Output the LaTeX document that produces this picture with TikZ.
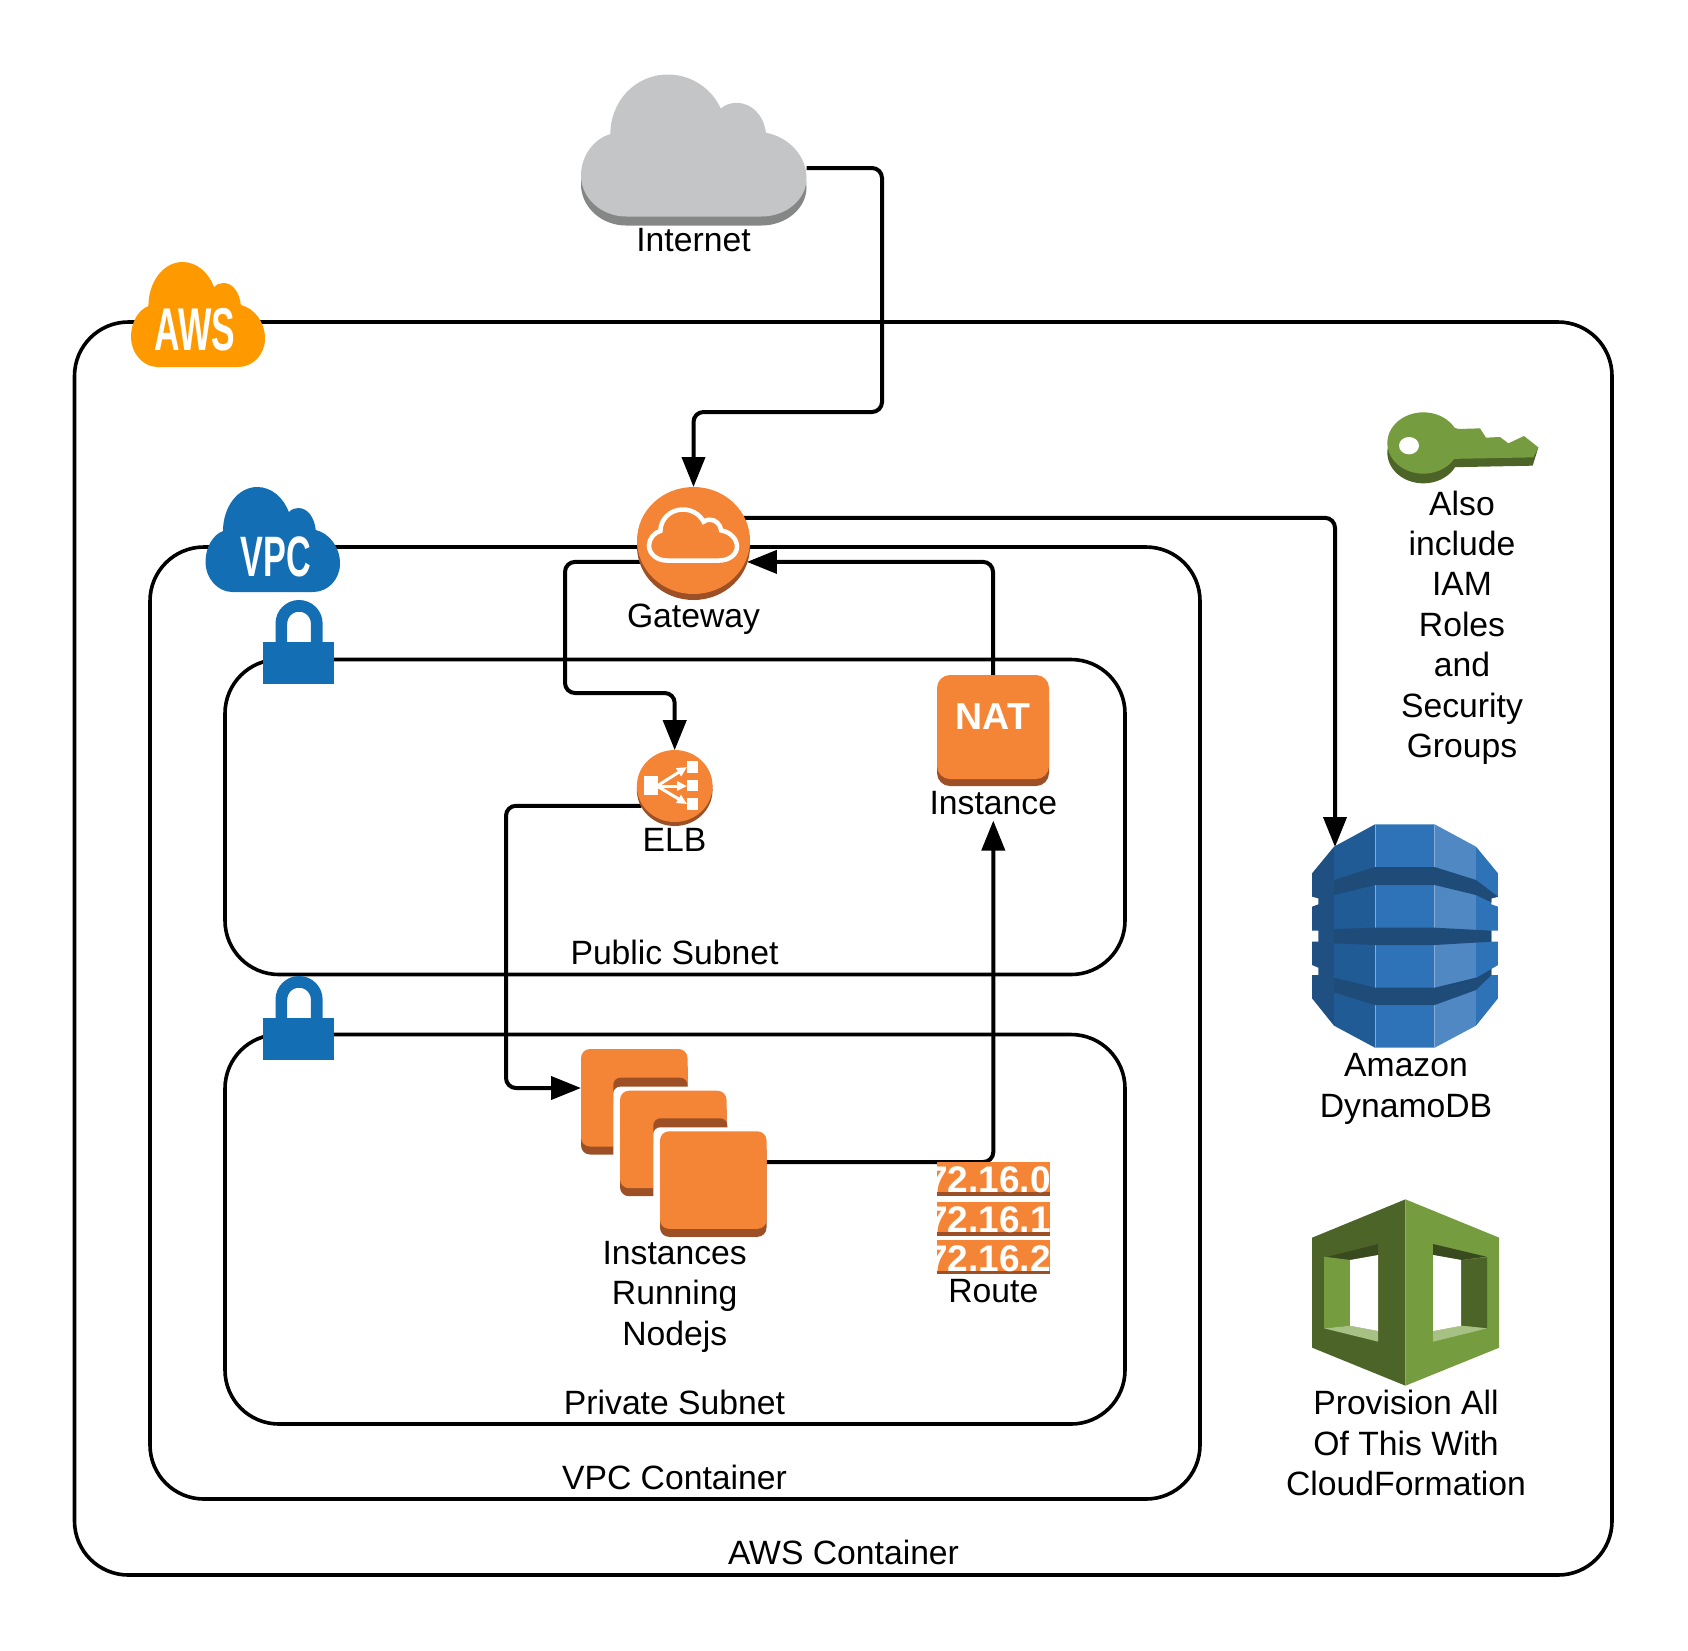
\documentclass[tikz,border=0pt]{standalone}
\usepackage{fontspec}
\setmainfont{Liberation Sans}
\usetikzlibrary{arrows.meta}

\definecolor{awsorange}{HTML}{F58536}
\definecolor{awsbrown}{HTML}{9D5025}
\definecolor{awsyellow}{HTML}{FF9900}
\definecolor{vpcblue}{HTML}{146EB4}
\definecolor{cloudgrey}{HTML}{C4C5C6}
\definecolor{cloudshade}{HTML}{858787}
\definecolor{keygreen}{HTML}{759C3E}
\definecolor{keyshade}{HTML}{4D6429}
\definecolor{cubedark}{HTML}{3A4A1F}
\definecolor{cubelight}{HTML}{A7C084}
\definecolor{dynoA}{HTML}{205081}
\definecolor{dynoB}{HTML}{205B96}
\definecolor{dynoC}{HTML}{2E73B8}
\definecolor{dynoD}{HTML}{5088C4}
\definecolor{dynoband}{HTML}{1F4B78}

\def\cloudpath{(0.2,1) .. controls (0.09,1) and (0,0.87) .. (0,0.71) .. controls (0,0.57) and (0.06,0.45) .. (0.13,0.42) .. controls (0.13,0.19) and (0.24,0) .. (0.385,0) .. controls (0.49,0) and (0.58,0.1) .. (0.62,0.24) .. controls (0.64,0.21) and (0.665,0.2) .. (0.69,0.2) .. controls (0.76,0.2) and (0.81,0.29) .. (0.82,0.41) .. controls (0.92,0.44) and (1,0.57) .. (1,0.73) .. controls (1,0.88) and (0.91,1) .. (0.8,1) -- cycle}
\def\dynamoshape{(36,175) -- (102,95) -- (225,28) -- (404,28) -- (528,95) -- (594,175) -- (594,245) -- (574,250) -- (574,268) -- (594,275) -- (594,347) -- (574,347) -- (574,380) -- (594,380) -- (594,450) -- (574,462) -- (574,480) -- (594,480) -- (594,550) -- (528,632) -- (404,698) -- (225,698) -- (102,632) -- (36,550) -- (36,480) -- (55,480) -- (55,458) -- (36,450) -- (36,380) -- (55,380) -- (55,347) -- (36,347) -- (36,275) -- (55,268) -- (55,250) -- (36,245) -- cycle}

\tikzset{
  container/.style={draw, line width=3.6pt, rounded corners=54pt, inner sep=0pt, outer sep=0pt},
  conn/.style={draw, line width=4pt, rounded corners=10pt, -{Triangle[length=30pt,width=23pt]}},
  iconbox/.style={inner sep=0pt, outer sep=0pt},
  instbox/.style={iconbox, fill=awsorange, rounded corners=9pt, minimum width=106.5pt, minimum height=97.5pt},
  lbl/.style={font=\fontsize{33.7}{40.4}\selectfont, align=center, inner sep=0pt},
  logotext/.style={font=\fontsize{57}{57}\selectfont\bfseries, text=white, inner sep=0pt, anchor=base},
  routetext/.style={font=\fontsize{37}{37}\selectfont\bfseries, text=white, inner sep=0pt, anchor=base east},
  elbarrow/.style={white, line width=3pt, -{Triangle[length=10pt,width=9pt]}},
}

\newcommand{\lockicon}[1]{
  \begin{scope}[shift={#1}]
    \draw[vpcblue, line width=11.7pt] (18.35,10) -- (18.35,-18.45) arc [start angle=180, end angle=360, radius=17.7] -- (53.75,10);
    \fill[vpcblue] (0,0) rectangle (70.5,42);
  \end{scope}
}
\newcommand{\instback}[1]{
  \begin{scope}[shift={#1}]
    \fill[awsbrown, rounded corners=7pt] (-6.7,12) |- (67.3,-13) [sharp corners] -- (67.3,12) -- cycle;
    \fill[white, rounded corners=7pt] (-6.7,-4) rectangle (106.5,105.5);
  \end{scope}
}
\newcommand{\instfront}[2]{
  \begin{scope}[shift={#1}]
    \fill[awsbrown, rounded corners=9pt] (0,10) rectangle (106.5,105.5);
    \node[instbox] (#2) at (53.25,48.75) {};
  \end{scope}
}
\newcommand{\routerow}[5]{
  \fill[awsorange] (937,#1) rectangle (1050,#2);
  \fill[awsbrown] (937,#3) rectangle (1050,#2);
  \begin{scope}
    \clip (937,#1) rectangle (1050,#2);
    \node[routetext] (#4) at (1051,#3) {#5};
  \end{scope}
}

\begin{document}
\begin{tikzpicture}[x=1pt, y=-1pt]
    \useasboundingbox (0,0) rectangle (1688,1650);

    % containers
    \node[container, minimum width=1537.5pt, minimum height=1253pt] (awsbox) at (843.25,948.5) {};
    \node[container, minimum width=1050pt, minimum height=952pt] (vpcbox) at (675,1023) {};
    \node[container, minimum width=900pt, minimum height=315pt] (publicbox) at (675,817) {};
    \node[container, minimum width=900pt, minimum height=389.5pt] (privatebox) at (675,1229.25) {};

    % nodes that the connectors need
    \node[iconbox, minimum width=225.5pt, minimum height=151pt] (internet) at (693.75,150) {};
    \node[iconbox, circle, minimum size=113pt] (gateway) at (693.5,543.5) {};
    \node[iconbox, circle, minimum size=75.7pt] (elb) at (674.7,788) {};
    \node[iconbox, minimum width=112pt, minimum height=104pt] (nat) at (993,727) {};
    \node[lbl, anchor=base, inner sep=5.5pt] (natlabel) at (993.3,814.5) {Instance};
    \coordinate (bendgate) at (882,412);
    \coordinate (bendelb) at (565,693);
    \coordinate (bendinst) at (506,1088);
    \coordinate (dynamotip) at (1335,847);
    \coordinate (instAin) at (581,1088);
    \coordinate (instCout) at (766,1162);

    % connectors
    \draw[conn] ([yshift=-18pt]internet.east) -| (bendgate) -| (gateway.north);
    \draw[conn] (gateway.27) -| (dynamotip);
    \draw[conn] (nat.north) |- (gateway.-19);
    \draw[conn] (gateway.199) -| (bendelb) -| (elb.north);
    \draw[conn] (elb.208) -| (bendinst) -- (instAin);
    \draw[conn] (instCout) -| (natlabel.south);

    % Internet
    \fill[cloudshade, shift={(581,83.5)}, xscale=225.5, yscale=142] \cloudpath;
    \fill[cloudgrey, shift={(581,74.5)}, xscale=225.5, yscale=142] \cloudpath;

    % AWS and VPC logos
    \fill[awsyellow, shift={(131,262)}, xscale=134, yscale=105] \cloudpath;
    \node[logotext] (awslogo) at (195,350.4) {\scalebox{.62}[1.06]{AWS}};
    \fill[vpcblue, shift={(205.5,487)}, xscale=134.5, yscale=105] \cloudpath;
    \node[logotext] (vpclogo) at (275.6,576) {\scalebox{.6}[1]{VPC}};

    % locks
    \lockicon{(263,642)}
    \lockicon{(263,1018)}

    % Gateway
    \fill[awsbrown] (693.5,546.5) ellipse [x radius=56.5, y radius=53.5];
    \fill[awsorange] (693.5,540.5) ellipse [x radius=56.5, y radius=53.5];
    \draw[white, fill=awsorange, line width=4.5pt, shift={(649,509.5)}, xscale=88, yscale=51] \cloudpath;

    % ELB
    \fill[awsbrown] (674.7,790) ellipse [x radius=37.85, y radius=36];
    \fill[awsorange] (674.7,786) ellipse [x radius=37.85, y radius=36];
    \fill[white] (644,776) rectangle (657.7,795);
    \fill[white] (686.7,761) rectangle (698.3,772.7);
    \fill[white] (686.7,780) rectangle (698.3,791.3);
    \fill[white] (686.7,798) rectangle (698.3,810);
    \draw[elbarrow] (657,786) -- (687,767);
    \draw[elbarrow] (657,786) -- (687,786);
    \draw[elbarrow] (657,786) -- (687,804);

    % NAT
    \fill[awsbrown, rounded corners=13pt] (937,690) rectangle (1049,786);
    \node[iconbox, fill=awsorange, rounded corners=13pt, minimum width=112pt, minimum height=104pt] (natface) at (993,727) {};
    \node[font=\fontsize{37.5}{37.5}\selectfont\bfseries, text=white, inner sep=0pt, anchor=base] (natlogo) at (993,729) {NAT};

    % Instances
    \instfront{(581,1049)}{instA}
    \instback{(620,1090.7)}
    \instfront{(620,1090.7)}{instB}
    \instback{(660,1131.3)}
    \instfront{(660,1131.3)}{instC}

    % Route table
    \routerow{1162}{1196}{1192}{routeA}{172.16.0}
    \routerow{1202}{1236}{1232}{routeB}{172.16.1}
    \routerow{1240}{1274}{1271}{routeC}{172.16.2}

    % key
    \begin{scope}[shift={(1380,405)}, scale=1/3]
      \fill[keyshade] (130,143) ellipse [x radius=108, y radius=92];
      \fill[keyshade] (200,100) -- (475,127) -- (458,182) -- (200,187) -- cycle;
      \fill[keygreen] (130,114) ellipse [x radius=108, y radius=92];
      \fill[keygreen] (200,60) -- (235,72) -- (300,70) -- (318,98) -- (360,96) -- (385,115) -- (432,93) -- (475,127) -- (460,157) -- (200,162) -- cycle;
      \fill[white] (87,122) ellipse [x radius=30, y radius=26];
    \end{scope}

    % DynamoDB
    \begin{scope}[shift={(1300,815)}, scale=1/3]
      \clip \dynamoshape;
      \fill[dynoA] (36,0) rectangle (102,720);
      \fill[dynoB] (102,0) rectangle (225,720);
      \fill[dynoC] (225,0) rectangle (404,720);
      \fill[dynoD] (404,0) rectangle (528,720);
      \fill[dynoC] (528,0) rectangle (594,720);
      \draw[dynoD!70!white, line width=.8pt] (225,0) -- (225,720);
      \draw[dynoD!70!white, line width=.8pt] (404,0) -- (404,720);
      \fill[dynoband] (102,195) -- (225,156) -- (404,156) -- (528,195) -- (594,245) -- (574,262) -- (528,240) -- (404,210) -- (225,210) -- (102,240) -- cycle;
      \fill[dynoband] (102,342) -- (225,338) -- (404,338) -- (574,347) -- (574,380) -- (404,390) -- (225,390) -- (102,385) -- cycle;
      \fill[dynoband] (102,488) -- (225,518) -- (404,518) -- (532,487) -- (574,462) -- (574,480) -- (528,525) -- (404,570) -- (225,570) -- (102,532) -- cycle;
    \end{scope}

    % CloudFormation
    \begin{scope}[shift={(880,1100)}, xscale=1/2.24, yscale=1/3]
      \fill[keyshade] (1177,298) -- (968,413) -- (968,743) -- (1177,857) -- cycle;
      \fill[keygreen] (1177,298) -- (1387,413) -- (1387,743) -- (1177,857) -- cycle;
      \fill[cubedark] (997,472) -- (1116,432) -- (1116,465) -- (1053,480) -- cycle;
      \fill[keygreen] (995,470) -- (1053,480) -- (1053,677) -- (995,685) -- cycle;
      \fill[cubelight] (995,685) -- (1053,677) -- (1116,693) -- (1116,725) -- cycle;
      \fill[white] (1053,480) -- (1116,465) -- (1116,693) -- (1053,677) -- cycle;
      \fill[cubedark] (1239,432) -- (1358,470) -- (1302,480) -- (1239,465) -- cycle;
      \fill[keyshade] (1302,480) -- (1360,472) -- (1360,685) -- (1302,677) -- cycle;
      \fill[cubelight] (1239,693) -- (1302,677) -- (1360,685) -- (1239,725) -- cycle;
      \fill[white] (1239,465) -- (1302,480) -- (1302,677) -- (1239,693) -- cycle;
    \end{scope}

    % labels
    \node[lbl, anchor=base] (internettext) at (693.5,251.5) {Internet};
    \node[lbl, anchor=base] (gatewaytext) at (693.5,627) {Gateway};
    \node[lbl, anchor=base] (elbtext) at (674.5,851.7) {ELB};
    \node[lbl, anchor=base] (routetitle) at (993.3,1302.5) {Route};
    \node[lbl] (insttext) at (674.7,1296.7) {Instances\\Running\\Nodejs};
    \node[lbl] (keytext) at (1462,627.5) {Also\\include\\IAM\\Roles\\and\\Security\\Groups};
    \node[lbl] (dynamotext) at (1406,1089) {Amazon\\DynamoDB};
    \node[lbl] (cubetext) at (1406,1443) {Provision All\\Of This With\\CloudFormation};
    \node[lbl, anchor=base] (publictext) at (674.5,964.5) {Public Subnet};
    \node[lbl, anchor=base] (privatetext) at (674.5,1414.5) {Private Subnet};
    \node[lbl, anchor=base] (vpctext) at (674.5,1489) {VPC Container};
    \node[lbl, anchor=base] (awstext) at (843.5,1564) {AWS Container};

\end{tikzpicture}
\end{document}
